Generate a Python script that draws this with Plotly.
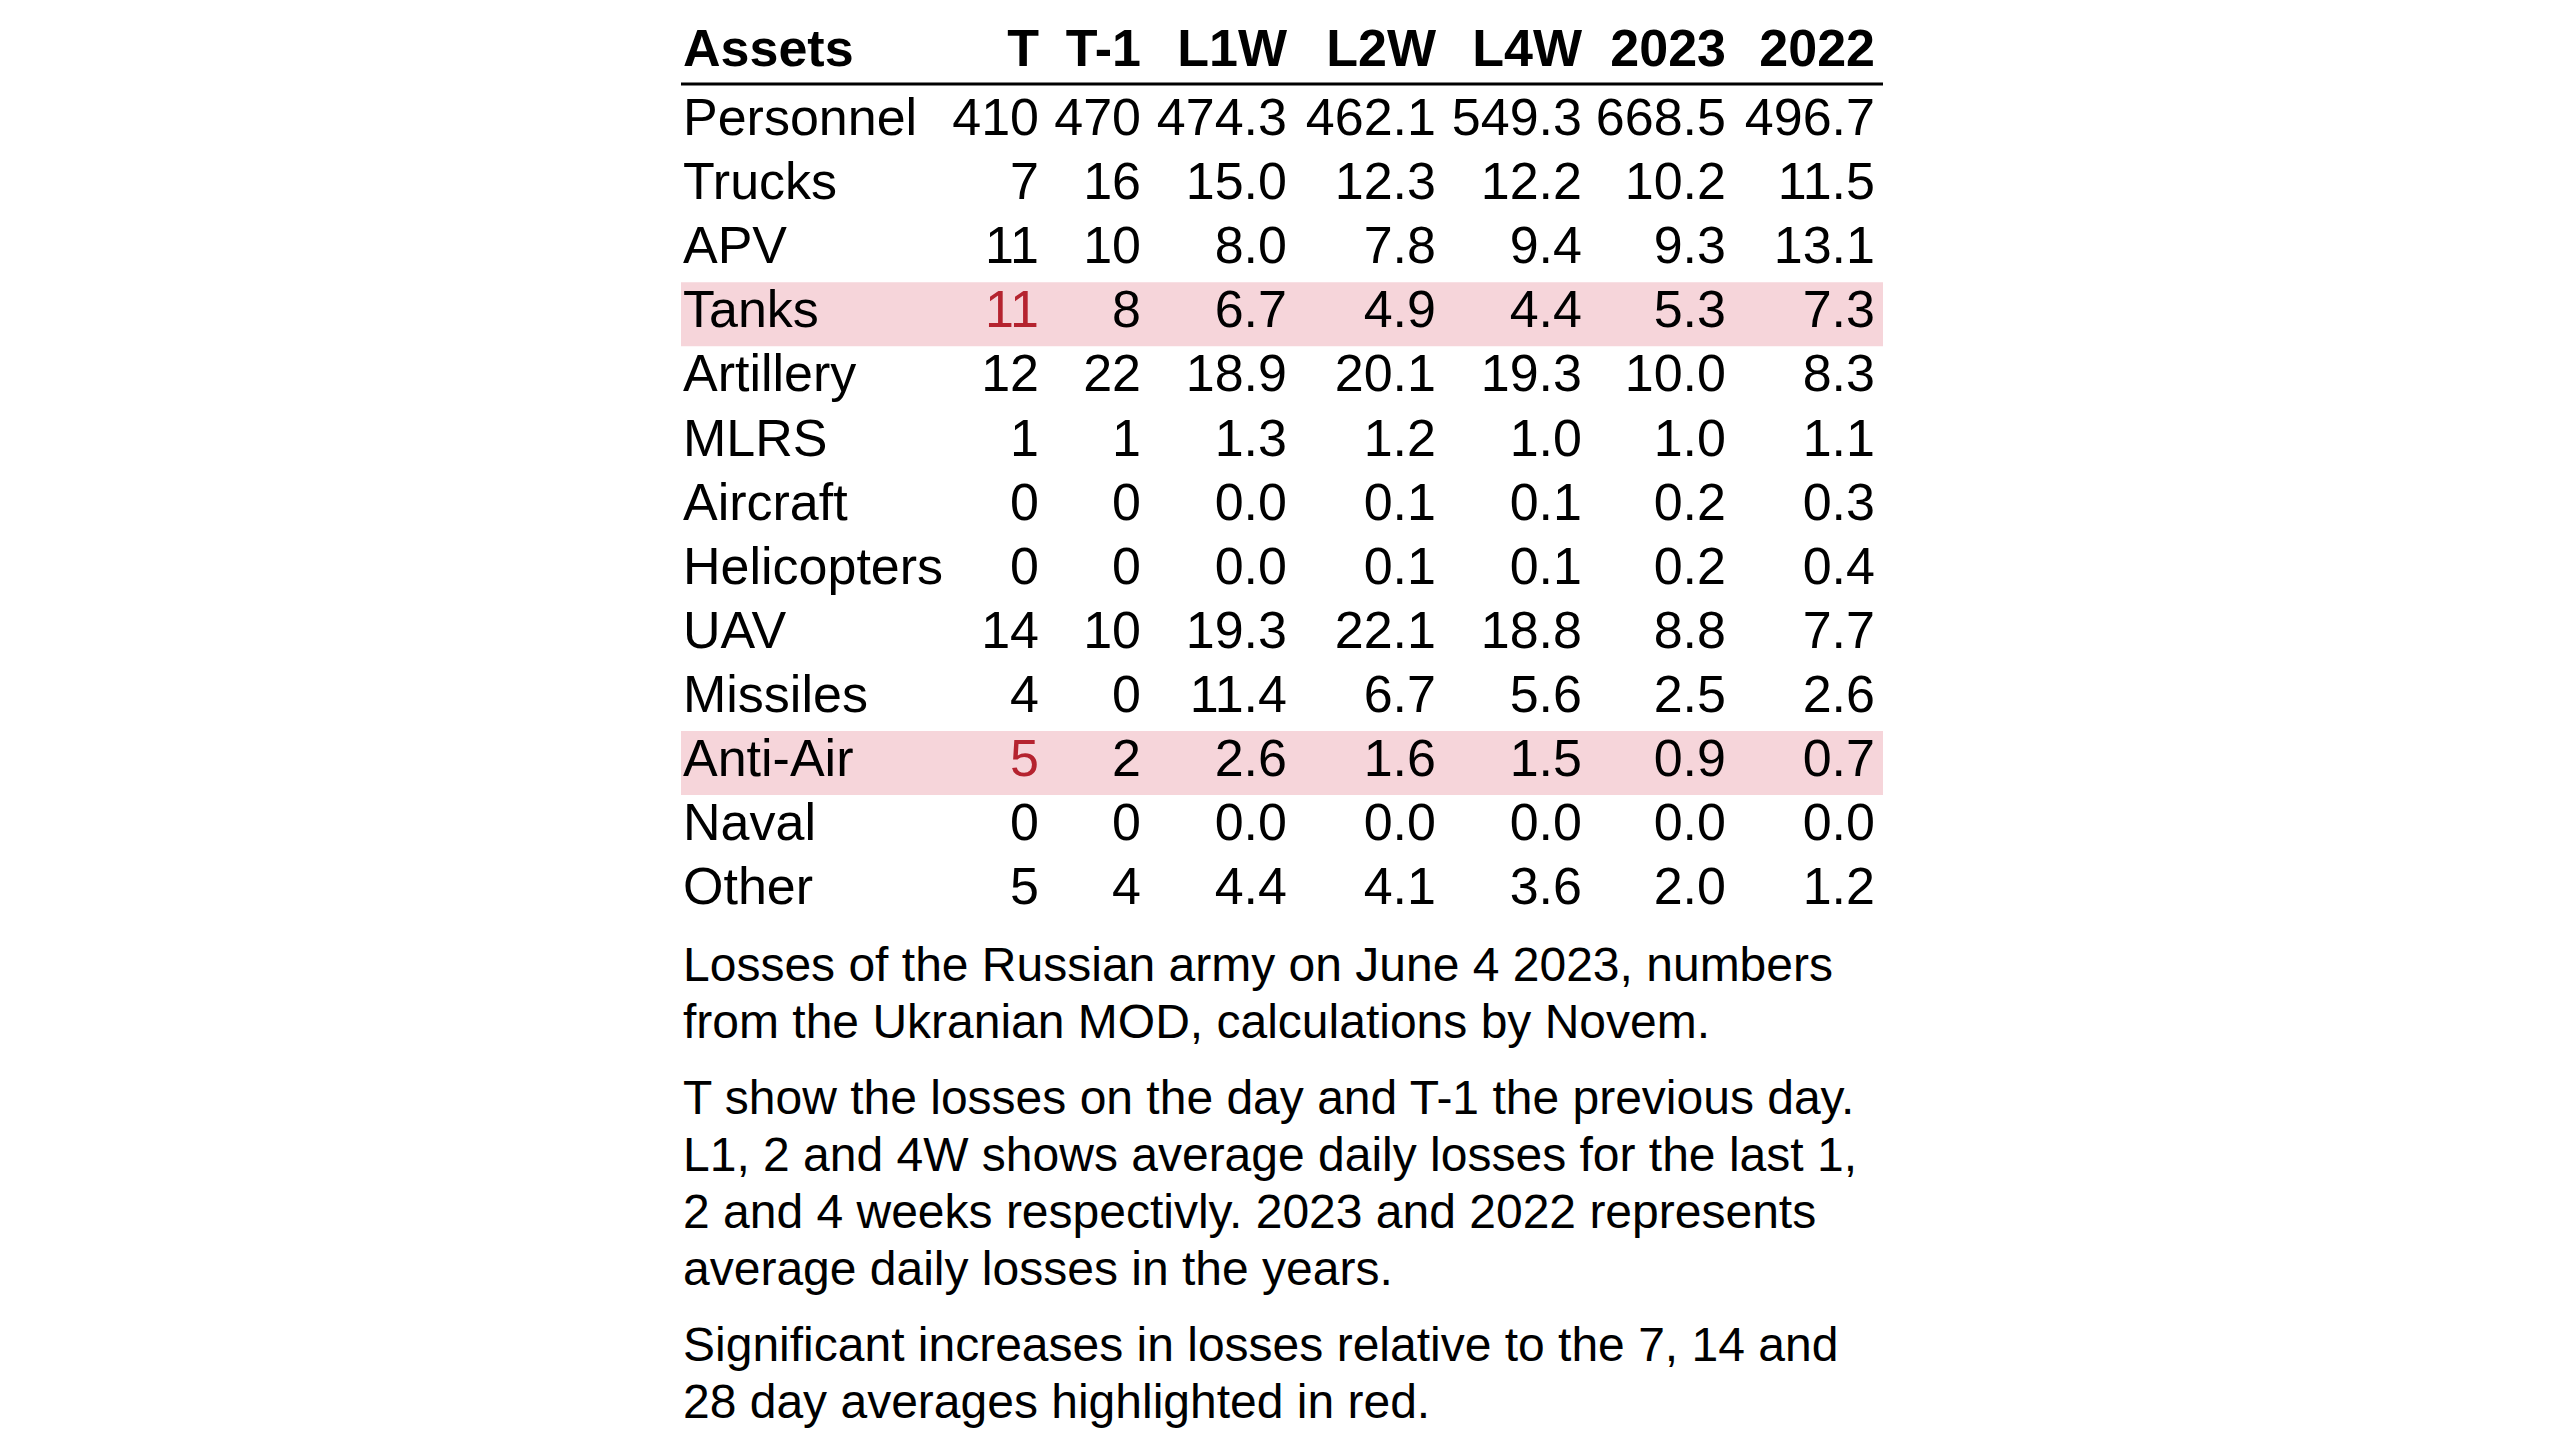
import plotly.graph_objects as go

cols = ['T', 'T-1', 'L1W', 'L2W', 'L4W', '2023', '2022']
rows = {
    'Personnel':   ['410', '470', '474.3', '462.1', '549.3', '668.5', '496.7'],
    'Trucks':      ['7', '16', '15.0', '12.3', '12.2', '10.2', '11.5'],
    'APV':         ['11', '10', '8.0', '7.8', '9.4', '9.3', '13.1'],
    'Tanks':       ['11', '8', '6.7', '4.9', '4.4', '5.3', '7.3'],
    'Artillery':   ['12', '22', '18.9', '20.1', '19.3', '10.0', '8.3'],
    'MLRS':        ['1', '1', '1.3', '1.2', '1.0', '1.0', '1.1'],
    'Aircraft':    ['0', '0', '0.0', '0.1', '0.1', '0.2', '0.3'],
    'Helicopters': ['0', '0', '0.0', '0.1', '0.1', '0.2', '0.4'],
    'UAV':         ['14', '10', '19.3', '22.1', '18.8', '8.8', '7.7'],
    'Missiles':    ['4', '0', '11.4', '6.7', '5.6', '2.5', '2.6'],
    'Anti-Air':    ['5', '2', '2.6', '1.6', '1.5', '0.9', '0.7'],
    'Naval':       ['0', '0', '0.0', '0.0', '0.0', '0.0', '0.0'],
    'Other':       ['5', '4', '4.4', '4.1', '3.6', '2.0', '1.2'],
}
highlight = ['Tanks', 'Anti-Air']  # red in column T

notes = [
    'Losses of the Russian army on June 4 2023, numbers',
    'from the Ukranian MOD, calculations by Novem.',
    None,
    'T show the losses on the day and T-1 the previous day.',
    'L1, 2 and 4W shows average daily losses for the last 1,',
    '2 and 4 weeks respectivly. 2023 and 2022 represents',
    'average daily losses in the years.',
    None,
    'Significant increases in losses relative to the 7, 14 and',
    '28 day averages highlighted in red.',
]

left = 675
col_right = [1031, 1133, 1279, 1428, 1574, 1718, 1867]
table_right = 1875
head_y = 45
row_y0 = 114
step = 64.1
red = '#b5232f'
font = 'Liberation Sans, Arial, sans-serif'
fs = 52

fig = go.Figure()

names = list(rows.keys())
ys = [row_y0 + i * step for i in range(len(names))]

shapes = []
for n, y in zip(names, ys):
    if n in highlight:
        shapes.append(dict(type='rect', x0=left - 2, x1=table_right, y0=y - step / 2, y1=y + step / 2,
                           fillcolor='#f6d5da', line=dict(width=0), layer='below'))
shapes.append(dict(type='line', x0=left - 2, x1=table_right, y0=76, y1=76,
                   line=dict(color='black', width=3)))

# header
fig.add_trace(go.Scatter(x=[left], y=[head_y], mode='text', text=['<b>Assets</b>'],
                         textposition='middle right', textfont=dict(size=fs, family=font, color='black')))
fig.add_trace(go.Scatter(x=col_right, y=[head_y] * len(cols), mode='text',
                         text=['<b>%s</b>' % c for c in cols],
                         textposition='middle left', textfont=dict(size=fs, family=font, color='black')))

# row names
fig.add_trace(go.Scatter(x=[left] * len(names), y=ys, mode='text', text=names,
                         textposition='middle right', textfont=dict(size=fs, family=font, color='black')))

# values
for j, c in enumerate(cols):
    colors = [red if (j == 0 and n in highlight) else 'black' for n in names]
    fig.add_trace(go.Scatter(x=[col_right[j]] * len(names), y=ys, mode='text',
                             text=[rows[n][j] for n in names], textposition='middle left',
                             textfont=dict(size=fs, family=font, color=colors)))

# notes
ny = []
y = 961
for line in notes:
    if line is None:
        y += 19
        continue
    ny.append(y)
    y += 57
fig.add_trace(go.Scatter(x=[left] * len(ny), y=ny, mode='text', text=[l for l in notes if l],
                         textposition='middle right', textfont=dict(size=48, family=font, color='black')))

fig.update_layout(
    width=2560, height=1440, showlegend=False,
    margin=dict(l=0, r=0, t=0, b=0),
    paper_bgcolor='white', plot_bgcolor='white',
    xaxis=dict(range=[0, 2560], visible=False, fixedrange=True),
    yaxis=dict(range=[1440, 0], visible=False, fixedrange=True),
    shapes=shapes,
)
fig.write_html("out.html")
